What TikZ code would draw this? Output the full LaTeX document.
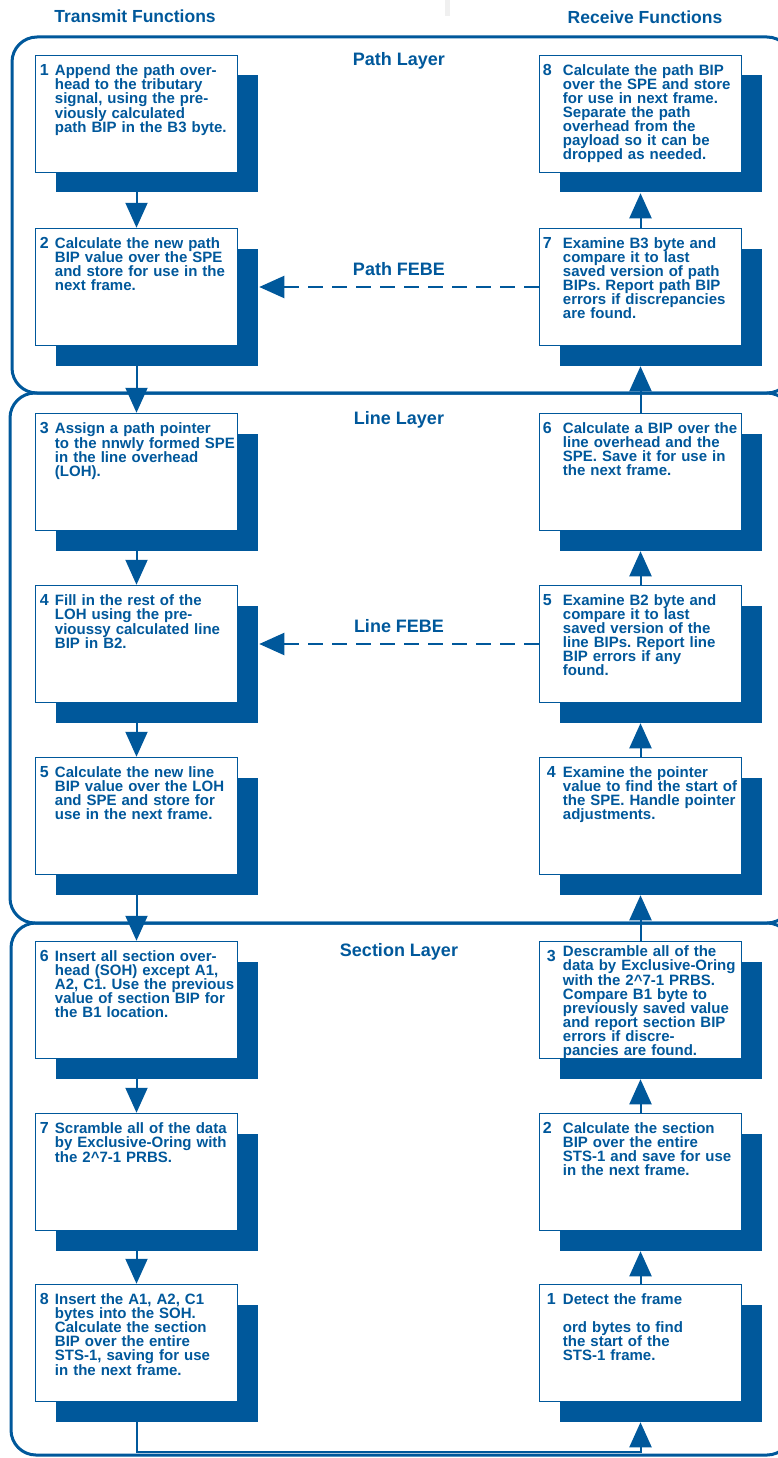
\documentclass[tikz,border=0pt]{standalone}
\usepackage{xcolor}
\usepackage{fontspec}
\setmainfont{Liberation Sans}
\definecolor{sonetblue}{RGB}{0,88,155}
\usepackage{tikz}
\usetikzlibrary{arrows.meta,shadows}
\setlength{\lineskiplimit}{-10pt}
\frenchspacing

\begin{document}
\begin{tikzpicture}[
  x=1pt, y=-1pt,
  txbox/.style={draw=sonetblue,line width=1.5pt,fill=white,inner sep=0pt,
                minimum width=202pt,minimum height=117pt,
                drop shadow={shadow xshift=20pt,shadow yshift=-20pt,fill=sonetblue,opacity=1}},
  stepno/.style={anchor=base west,inner sep=0pt,text=sonetblue,
                 font=\fontsize{16}{16}\selectfont\bfseries},
  steptext/.style={anchor=base west,inner sep=0pt,text=sonetblue,text width=230pt,
                   align=left,font=\fontsize{15}{14}\selectfont\bfseries\frenchspacing},
  layer/.style={draw=sonetblue,line width=3pt,rounded corners=25pt},
  layertitle/.style={anchor=base,inner sep=0pt,text=sonetblue,
                     font=\fontsize{18}{18}\selectfont\bfseries},
  flow/.style={draw=sonetblue,line width=2pt,-{Triangle[width=22pt,length=25pt]}},
  febe/.style={flow,dash pattern=on 15pt off 9pt},
]
  \useasboundingbox (0,0) rectangle (777,1458);
  \fill[black!6] (445,0) rectangle (450,16);

  % Column headings
  \node[layertitle,font=\fontsize{17.5}{17.5}\selectfont\bfseries] (txhead) at (135,23) {Transmit Functions};
  \node[layertitle,font=\fontsize{17.5}{17.5}\selectfont\bfseries] (rxhead) at (645,24) {Receive Functions};

  % Layer frames
  \draw[layer] (12,37) rectangle (792,393);
  \draw[layer] (10,393) rectangle (792,923);
  \draw[layer] (11,923) rectangle (792,1455);

  \node[layertitle] (pathlayer) at (399,66) {Path Layer};
  \node[layertitle] (linelayer) at (399,424) {Line Layer};
  \node[layertitle] (sectlayer) at (399,956) {Section Layer};

  % Transmit 1
  \node[txbox] (tx1) at (136.5,114) {};
  \node[stepno] (tx1n) at ([shift={(5,21)}]tx1.north west) {1};
  \node[steptext] (tx1t) at ([shift={(20,21)}]tx1.north west)
    {Append the path over-\\head to the tributary\\signal, using the pre-\\viously calculated\\path BIP in the B3 byte.};

  % Transmit 2
  \node[txbox] (tx2) at (136.5,287) {};
  \node[stepno] (tx2n) at ([shift={(5,21)}]tx2.north west) {2};
  \node[steptext] (tx2t) at ([shift={(20,21)}]tx2.north west)
    {Calculate the new path\\BIP value over the SPE\\and store for use in the\\next frame.};

  % Transmit 3
  \node[txbox] (tx3) at (136.5,472) {};
  \node[stepno] (tx3n) at ([shift={(5,21)}]tx3.north west) {3};
  \node[steptext] (tx3t) at ([shift={(20,21)}]tx3.north west)
    {Assign a path pointer\\to the nnwly formed SPE\\in the line overhead\\(LOH).};

  % Transmit 4
  \node[txbox] (tx4) at (136.5,644) {};
  \node[stepno] (tx4n) at ([shift={(5,21)}]tx4.north west) {4};
  \node[steptext] (tx4t) at ([shift={(20,21)}]tx4.north west)
    {Fill in the rest of the\\LOH using the pre-\\vioussy calculated line\\BIP in B2.};

  % Transmit 5
  \node[txbox] (tx5) at (136.5,816) {};
  \node[stepno] (tx5n) at ([shift={(5,21)}]tx5.north west) {5};
  \node[steptext] (tx5t) at ([shift={(20,21)}]tx5.north west)
    {Calculate the new line\\BIP value over the LOH\\and SPE and store for\\use in the next frame.};

  % Transmit 6
  \node[txbox] (tx6) at (136.5,1000) {};
  \node[stepno] (tx6n) at ([shift={(5,21)}]tx6.north west) {6};
  \node[steptext] (tx6t) at ([shift={(20,21)}]tx6.north west)
    {Insert all section over-\\head (SOH) except A1,\\A2, C1. Use the previous\\value of section BIP for\\the B1 location.};

  % Transmit 7
  \node[txbox] (tx7) at (136.5,1172) {};
  \node[stepno] (tx7n) at ([shift={(5,21)}]tx7.north west) {7};
  \node[steptext] (tx7t) at ([shift={(20,21)}]tx7.north west)
    {Scramble all of the data\\by Exclusive-Oring with\\the 2\textasciicircum 7-1 PRBS.};

  % Transmit 8
  \node[txbox] (tx8) at (136.5,1343) {};
  \node[stepno] (tx8n) at ([shift={(5,21)}]tx8.north west) {8};
  \node[steptext] (tx8t) at ([shift={(20,21)}]tx8.north west)
    {Insert the A1, A2, C1\\bytes into the SOH.\\Calculate the section\\BIP over the entire\\STS-1, saving for use\\in the next frame.};

  % Receive 8
  \node[txbox] (rx8) at (640.5,114) {};
  \node[stepno] (rx8n) at ([shift={(4,21)}]rx8.north west) {8};
  \node[steptext] (rx8t) at ([shift={(24,21)}]rx8.north west)
    {Calculate the path BIP\\over the SPE and store\\for use in next frame.\\Separate the path\\overhead from the\\payload so it can be\\dropped as needed.};

  % Receive 7
  \node[txbox] (rx7) at (640.5,287) {};
  \node[stepno] (rx7n) at ([shift={(4,21)}]rx7.north west) {7};
  \node[steptext] (rx7t) at ([shift={(24,21)}]rx7.north west)
    {Examine B3 byte and\\compare it to last\\saved version of path\\BIPs. Report path BIP\\errors if discrepancies\\are found.};

  % Receive 6
  \node[txbox] (rx6) at (640.5,472) {};
  \node[stepno] (rx6n) at ([shift={(4,21)}]rx6.north west) {6};
  \node[steptext] (rx6t) at ([shift={(24,21)}]rx6.north west)
    {Calculate a BIP over the\\line overhead and the\\SPE. Save it for use in\\the next frame.};

  % Receive 5
  \node[txbox] (rx5) at (640.5,644) {};
  \node[stepno] (rx5n) at ([shift={(4,21)}]rx5.north west) {5};
  \node[steptext] (rx5t) at ([shift={(24,21)}]rx5.north west)
    {Examine B2 byte and\\compare it to last\\saved version of the\\line BIPs. Report line\\BIP errors if any\\found.};

  % Receive 4
  \node[txbox] (rx4) at (640.5,816) {};
  \node[stepno] (rx4n) at ([shift={(8,21)}]rx4.north west) {4};
  \node[steptext] (rx4t) at ([shift={(24,21)}]rx4.north west)
    {Examine the pointer\\value to find the start of\\the SPE. Handle pointer\\adjustments.};

  % Receive 3 (text runs to the bottom edge)
  \node[txbox] (rx3) at (640.5,1000) {};
  \node[stepno] (rx3n) at ([shift={(8,21)}]rx3.north west) {3};
  \node[steptext] (rx3t) at ([shift={(24,16)}]rx3.north west)
    {Descramble all of the\\data by Exclusive-Oring\\with the 2\textasciicircum 7-1 PRBS.\\Compare B1 byte to\\previously saved value\\and report section BIP\\errors if discre-\\pancies are found.};

  % Receive 2
  \node[txbox] (rx2) at (640.5,1172) {};
  \node[stepno] (rx2n) at ([shift={(4,21)}]rx2.north west) {2};
  \node[steptext] (rx2t) at ([shift={(24,21)}]rx2.north west)
    {Calculate the section\\BIP over the entire\\STS-1 and save for use\\in the next frame.};

  % Receive 1
  \node[txbox] (rx1) at (640.5,1343) {};
  \node[stepno] (rx1n) at ([shift={(8,21)}]rx1.north west) {1};
  \node[steptext] (rx1t) at ([shift={(24,21)}]rx1.north west)
    {Detect the frame\\[14pt]ord bytes to find\\the start of the\\STS-1 frame.};

  % Transmit flow (downwards)
  \draw[flow] (tx1.south) -- (tx2.north);
  \draw[flow] (tx2.south) -- (tx3.north);
  \draw[flow] (tx3.south) -- (tx4.north);
  \draw[flow] (tx4.south) -- (tx5.north);
  \draw[flow] (tx5.south) -- (tx6.north);
  \draw[flow] (tx6.south) -- (tx7.north);
  \draw[flow] (tx7.south) -- (tx8.north);

  % Loop back to the receiver
  \draw[flow] (tx8.south) -- ++(0,50) -| ([yshift=-20pt]rx1.south);

  % Receive flow (upwards)
  \draw[flow] (rx1.north) -- ([yshift=-20pt]rx2.south);
  \draw[flow] (rx2.north) -- ([yshift=-20pt]rx3.south);
  \draw[flow] (rx3.north) -- ([yshift=-20pt]rx4.south);
  \draw[flow] (rx4.north) -- ([yshift=-20pt]rx5.south);
  \draw[flow] (rx5.north) -- ([yshift=-20pt]rx6.south);
  \draw[flow] (rx6.north) -- ([yshift=-20pt]rx7.south);
  \draw[flow] (rx7.north) -- ([yshift=-20pt]rx8.south);

  % FEBE feedback
  \draw[febe] (rx7.west) -- ([xshift=21pt]tx2.east)
    node[layertitle,midway,above=10pt,anchor=south] (pathfebe) {Path FEBE};
  \draw[febe] (rx5.west) -- ([xshift=21pt]tx4.east)
    node[layertitle,midway,above=10pt,anchor=south] (linefebe) {Line FEBE};
\end{tikzpicture}
\end{document}
